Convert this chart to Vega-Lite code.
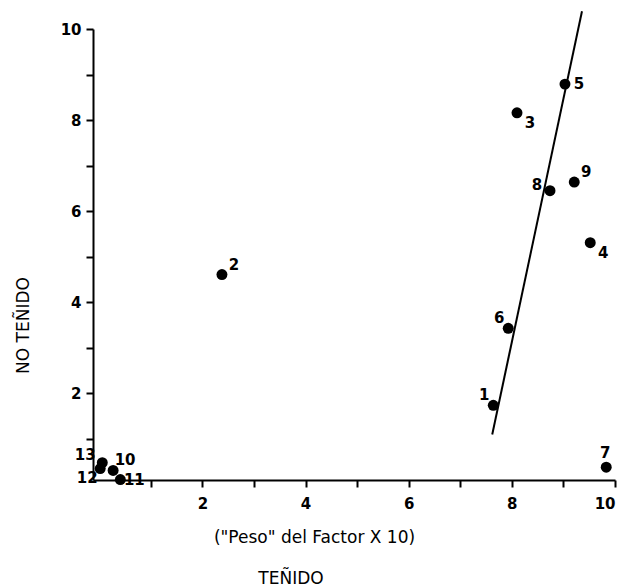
{
  "$schema": "https://vega.github.io/schema/vega-lite/v6.json",
  "autosize": "none",
  "width": 522,
  "height": 451,
  "padding": {"left": 93, "top": 29, "right": 10, "bottom": 108},
  "background": "white",
  "config": {
    "view": {"stroke": null},
    "font": "DejaVu Sans",
    "text": {"fontWeight": "bold"},
    "axis": {
      "domainColor": "black",
      "domainWidth": 2,
      "tickColor": "black",
      "tickWidth": 2,
      "tickSize": 7,
      "grid": false,
      "labelColor": "black",
      "labelFontSize": 15,
      "labelFontWeight": "bold",
      "labelFont": "DejaVu Sans",
      "titleFont": "DejaVu Sans",
      "titleColor": "black",
      "titleFontWeight": "normal"
    }
  },
  "title": {
    "text": "TEÑIDO",
    "orient": "bottom",
    "anchor": "middle",
    "dx": -63,
    "offset": 26,
    "fontSize": 17,
    "fontWeight": "normal",
    "font": "DejaVu Sans",
    "color": "black"
  },
  "datasets": {
    "puntos": [
      {"id": "1", "x": 7.64, "y": 1.74},
      {"id": "2", "x": 2.38, "y": 4.61},
      {"id": "3", "x": 8.10, "y": 8.16},
      {"id": "4", "x": 9.52, "y": 5.31},
      {"id": "5", "x": 9.03, "y": 8.79},
      {"id": "6", "x": 7.93, "y": 3.43},
      {"id": "7", "x": 9.83, "y": 0.38},
      {"id": "8", "x": 8.74, "y": 6.45},
      {"id": "9", "x": 9.21, "y": 6.64},
      {"id": "10", "x": 0.27, "y": 0.31},
      {"id": "11", "x": 0.41, "y": 0.11},
      {"id": "12", "x": 0.02, "y": 0.35},
      {"id": "13", "x": 0.06, "y": 0.48}
    ],
    "recta": [
      {"x": 7.62, "y": 1.10},
      {"x": 9.36, "y": 10.39}
    ]
  },
  "encoding": {
    "x": {
      "field": "x",
      "type": "quantitative",
      "scale": {"domain": [-0.12, 10], "nice": false, "zero": false},
      "axis": {
        "values": [1, 2, 3, 4, 5, 6, 7, 8, 9, 10],
        "labelExpr": "datum.value % 2 == 0 ? datum.label : ''",
        "labelPadding": 9,
        "title": "(\"Peso\" del Factor X 10)",
        "titleFontSize": 17,
        "titleX": 221,
        "titleY": 57,
        "titleAlign": "center",
        "titleBaseline": "middle"
      }
    },
    "y": {
      "field": "y",
      "type": "quantitative",
      "scale": {"domain": [0.1, 10], "nice": false, "zero": false},
      "axis": {
        "values": [1, 2, 3, 4, 5, 6, 7, 8, 9, 10],
        "labelExpr": "datum.value % 2 == 0 ? datum.label : ''",
        "labelPadding": 5,
        "title": "NO TEÑIDO",
        "titleFontSize": 17,
        "titleAngle": -90,
        "titleX": -70,
        "titleY": 296,
        "titleAlign": "center",
        "titleBaseline": "middle"
      }
    }
  },
  "layer": [
    {
      "data": {"name": "recta"},
      "mark": {"type": "line", "color": "black", "strokeWidth": 2},
      "encoding": {}
    },
    {
      "data": {"name": "puntos"},
      "mark": {"type": "circle", "color": "black", "opacity": 1, "size": 120},
      "encoding": {}
    },
    {
      "data": {"name": "puntos"},
      "transform": [{"filter": {"field": "id", "oneOf": ["2", "9", "10"]}}],
      "mark": {"type": "text", "fontSize": 15, "dx": 12, "dy": -10, "color": "black"},
      "encoding": {"text": {"field": "id"}}
    },
    {
      "data": {"name": "puntos"},
      "transform": [{"filter": {"field": "id", "oneOf": ["3", "4"]}}],
      "mark": {"type": "text", "fontSize": 15, "dx": 13, "dy": 10, "color": "black"},
      "encoding": {"text": {"field": "id"}}
    },
    {
      "data": {"name": "puntos"},
      "transform": [{"filter": {"field": "id", "oneOf": ["5", "11"]}}],
      "mark": {"type": "text", "fontSize": 15, "dx": 14, "dy": 0, "color": "black"},
      "encoding": {"text": {"field": "id"}}
    },
    {
      "data": {"name": "puntos"},
      "transform": [{"filter": {"field": "id", "oneOf": ["1", "6"]}}],
      "mark": {"type": "text", "fontSize": 15, "dx": -9, "dy": -10, "color": "black"},
      "encoding": {"text": {"field": "id"}}
    },
    {
      "data": {"name": "puntos"},
      "transform": [{"filter": {"field": "id", "equal": "7"}}],
      "mark": {"type": "text", "fontSize": 15, "dx": -1, "dy": -14, "color": "black"},
      "encoding": {"text": {"field": "id"}}
    },
    {
      "data": {"name": "puntos"},
      "transform": [{"filter": {"field": "id", "equal": "8"}}],
      "mark": {"type": "text", "fontSize": 15, "dx": -13, "dy": -6, "color": "black"},
      "encoding": {"text": {"field": "id"}}
    },
    {
      "data": {"name": "puntos"},
      "transform": [{"filter": {"field": "id", "equal": "12"}}],
      "mark": {"type": "text", "fontSize": 15, "dx": -13, "dy": 9, "color": "black"},
      "encoding": {"text": {"field": "id"}}
    },
    {
      "data": {"name": "puntos"},
      "transform": [{"filter": {"field": "id", "equal": "13"}}],
      "mark": {"type": "text", "fontSize": 15, "dx": -17, "dy": -8, "color": "black"},
      "encoding": {"text": {"field": "id"}}
    }
  ]
}
